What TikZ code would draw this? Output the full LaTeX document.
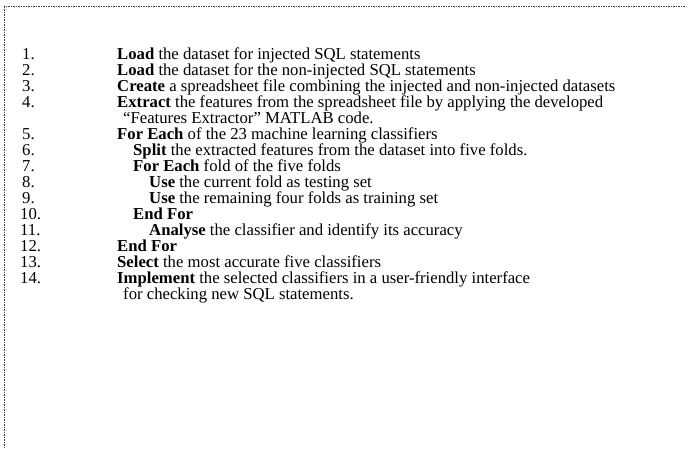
\documentclass[tikz,border=0pt]{standalone}
\usepackage{fontspec}
\setmainfont{Liberation Serif}
\begin{document}
\begin{tikzpicture}[x=1pt,y=-1pt,
  txt/.style={anchor=base west, inner sep=0pt, font=\fontsize{16.7}{16}\selectfont},
  frame/.style={draw=black!75, line width=1pt, dash pattern=on 1.5pt off 1pt}]
\useasboundingbox (0,0) rectangle (686,448);
\coordinate (fb) at (4.5,448);
\coordinate (fc) at (4.5,6.5);
\coordinate (fr) at (686,6.5);
\draw[frame] (fb) -- (fc) -- (fr);
% numbers
\node[txt] (n1) at (22,59) {1.};
\node[txt] (n2) at (22,75) {2.};
\node[txt] (n3) at (22,91) {3.};
\node[txt] (n4) at (22,107) {4.};
\node[txt] (n5) at (22,139) {5.};
\node[txt] (n6) at (22,155) {6.};
\node[txt] (n7) at (22,171) {7.};
\node[txt] (n8) at (22,187) {8.};
\node[txt] (n9) at (22,203) {9.};
\node[txt] (n10) at (20,219) {10.};
\node[txt] (n11) at (20,235) {11.};
\node[txt] (n12) at (20,251) {12.};
\node[txt] (n13) at (20,267) {13.};
\node[txt] (n14) at (20,283) {14.};
% statements
\node[txt] (s1) at (117,59) {\textbf{Load} the dataset for injected SQL statements};
\node[txt] (s2) at (117,75) {\textbf{Load} the dataset for the non-injected SQL statements};
\node[txt] (s3) at (117,91) {\textbf{Create} a spreadsheet file combining the injected and non-injected datasets};
\node[txt] (s4) at (117,107) {\textbf{Extract} the features from the spreadsheet file by applying the developed};
\node[txt] (s4b) at (123,123) {“Features Extractor” MATLAB code.};
\node[txt] (s5) at (117,139) {\textbf{For Each} of the 23 machine learning classifiers};
\node[txt] (s6) at (133,155) {\textbf{Split} the extracted features from the dataset into five folds.};
\node[txt] (s7) at (133,171) {\textbf{For Each} fold of the five folds};
\node[txt] (s8) at (149,187) {\textbf{Use} the current fold as testing set};
\node[txt] (s9) at (149,203) {\textbf{Use} the remaining four folds as training set};
\node[txt] (s10) at (133,219) {\textbf{End For}};
\node[txt] (s11) at (149,235) {\textbf{Analyse} the classifier and identify its accuracy};
\node[txt] (s12) at (117,251) {\textbf{End For}};
\node[txt] (s13) at (117,267) {\textbf{Select} the most accurate five classifiers};
\node[txt] (s14) at (117,283) {\textbf{Implement} the selected classifiers in a user-friendly interface};
\node[txt] (s14b) at (123,299) {for checking new SQL statements.};
\end{tikzpicture}
\end{document}
